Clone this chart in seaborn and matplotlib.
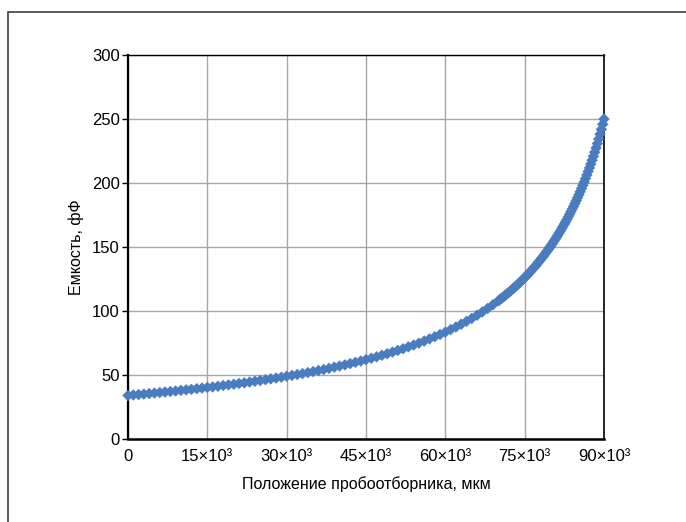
import numpy as np
import pandas as pd
import matplotlib
matplotlib.use("Agg")
import matplotlib.pyplot as plt
import seaborn as sns
from matplotlib.lines import Line2D

# ---- data ----
# coarse section: 0 .. 70 000 µm, step 1000 µm
x_coarse_start, x_coarse_stop, x_coarse_step = 0, 70000, 1000
cap_coarse = [
    34.0, 34.4, 34.7, 35.1, 35.5, 35.9, 36.3, 36.7, 37.1, 37.5,
    38.0, 38.4, 38.8, 39.3, 39.8, 40.3, 40.7, 41.2, 41.8, 42.3,
    42.8, 43.4, 43.9, 44.5, 45.1, 45.7, 46.3, 47.0, 47.6, 48.3,
    49.0, 49.7, 50.4, 51.1, 51.9, 52.7, 53.5, 54.3, 55.2, 56.1,
    57.0, 57.9, 58.9, 59.9, 60.9, 62.0, 63.1, 64.2, 65.4, 66.6,
    67.9, 69.2, 70.5, 72.0, 73.4, 74.9, 76.5, 78.2, 79.9, 81.7,
    83.5, 85.5, 87.5, 89.7, 91.9, 94.2, 96.7, 99.3, 102.0, 104.9,
    107.9,
]
# fine section: 70 250 .. 90 000 µm, step 250 µm
x_fine_start, x_fine_stop, x_fine_step = 70250, 90000, 250
cap_fine = [
    108.7, 109.5, 110.3, 111.1, 112.0, 112.8, 113.7, 114.5, 115.4, 116.3,
    117.2, 118.2, 119.1, 120.0, 121.0, 122.0, 123.0, 124.0, 125.0, 126.1,
    127.1, 128.2, 129.3, 130.4, 131.6, 132.7, 133.9, 135.1, 136.3, 137.5,
    138.8, 140.1, 141.4, 142.7, 144.1, 145.5, 146.9, 148.3, 149.8, 151.2,
    152.8, 154.3, 155.9, 157.5, 159.1, 160.8, 162.5, 164.3, 166.1, 167.9,
    169.7, 171.6, 173.6, 175.6, 177.6, 179.7, 181.8, 184.0, 186.2, 188.5,
    190.8, 193.2, 195.7, 198.2, 200.8, 203.5, 206.2, 209.0, 211.8, 214.8,
    217.8, 220.9, 224.1, 227.4, 230.8, 234.4, 238.1, 241.9, 245.9, 250.0,
]
x_ticks = [0, 15000, 30000, 45000, 60000, 75000, 90000]
x_tick_labels = ["0", "15×10³", "30×10³", "45×10³", "60×10³", "75×10³", "90×10³"]
y_ticks = [0, 50, 100, 150, 200, 250, 300]
x_label = "Положение пробоотборника, мкм"
y_label = "Емкость, фФ"

x_coarse = np.arange(x_coarse_start, x_coarse_stop + 1, x_coarse_step)
x_fine = np.arange(x_fine_start, x_fine_stop + 1, x_fine_step)
df = pd.DataFrame({
    "x": np.concatenate([x_coarse, x_fine]),
    "c": cap_coarse + cap_fine,
})

# ---- style ----
sns.set_theme(style="white")
plt.rcParams["font.family"] = ["Liberation Sans", "DejaVu Sans"]

fig = plt.figure(figsize=(6.86, 5.22), dpi=100)
ax = fig.add_axes([128 / 686, 1 - 439 / 522, (604 - 128) / 686, (439 - 55) / 522])

sns.scatterplot(data=df, x="x", y="c", ax=ax, marker="D", s=34,
                color="#4a7dbf", edgecolor="none", linewidth=0, zorder=3,
                clip_on=False)

ax.set_xlim(0, 90000)
ax.set_ylim(0, 300)
ax.set_xticks(x_ticks)
ax.set_xticklabels(x_tick_labels)
ax.set_yticks(y_ticks)
ax.grid(True, color="#a6a6a6", linewidth=1.0)
ax.set_axisbelow(True)
for side in ["left", "bottom", "right", "top"]:
    ax.spines[side].set_visible(True)
    ax.spines[side].set_color("black")
ax.spines["left"].set_linewidth(1.6)
ax.spines["bottom"].set_linewidth(1.8)
ax.spines["right"].set_linewidth(1.2)
ax.spines["top"].set_linewidth(1.0)

ax.tick_params(axis="y", which="both", direction="out", length=4, width=1,
               color="black", labelsize=12, pad=2, left=True)
ax.tick_params(axis="x", which="both", length=0, labelsize=12, pad=7)
for lab in ax.get_xticklabels() + ax.get_yticklabels():
    lab.set_color("black")

ax.set_xlabel(x_label, fontsize=11.5, color="black", labelpad=9)
ax.set_ylabel(y_label, fontsize=11.5, color="black")
ax.yaxis.set_label_coords(-0.092, 0.5)

# outer frame (partial border of the original figure)
fig.add_artist(Line2D([8 / 686, 8 / 686], [0, 1 - 12 / 522],
                      transform=fig.transFigure, color="#404040", linewidth=1.2))
fig.add_artist(Line2D([8 / 686, 1], [1 - 12 / 522, 1 - 12 / 522],
                      transform=fig.transFigure, color="#404040", linewidth=1.2))

fig.savefig("out.png", dpi=100)
